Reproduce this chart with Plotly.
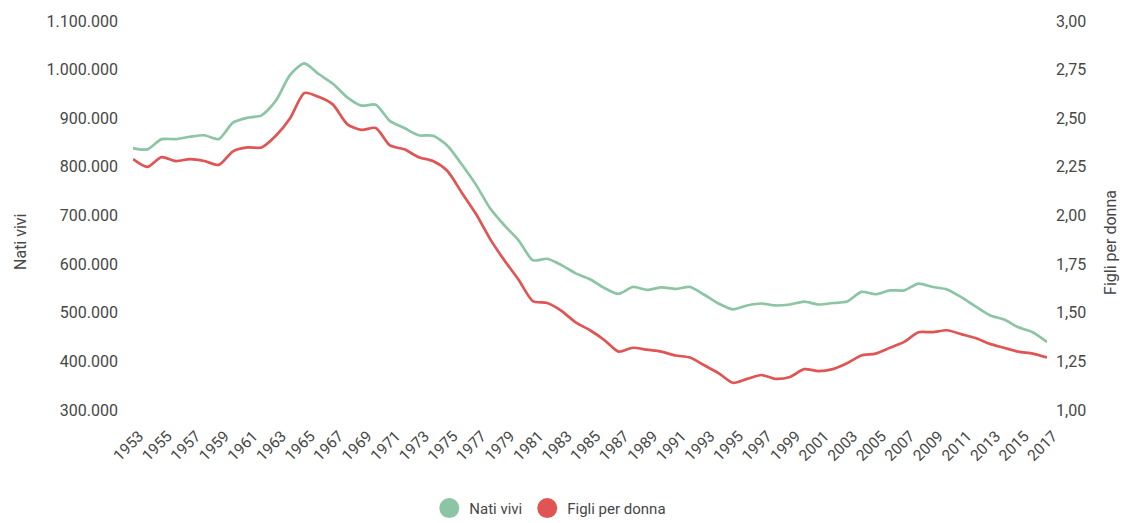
import plotly.graph_objects as go

# Anni 1953-2017
years = list(range(1953, 2018))

# Nati vivi per anno
nati_vivi = [
    838000, 836000, 857000, 857000, 862000, 865000, 857000, 891000, 901000, 906000,
    936000, 989000, 1013000, 991000, 971000, 943000, 926000, 928000, 894000, 880000,
    865000, 864000, 844000, 806000, 764000, 715000, 680000, 649000, 608000, 611000,
    598000, 581000, 569000, 551000, 539000, 553000, 547000, 552000, 549000, 553000,
    537000, 519000, 507000, 515000, 519000, 515000, 517000, 523000, 517000, 520000,
    523000, 543000, 538000, 546000, 546000, 560000, 553000, 548000, 532000, 513000,
    495000, 486000, 470000, 460000, 440000,
]

# Figli per donna (tasso di fecondità totale)
figli_per_donna = [
    2.29, 2.25, 2.30, 2.28, 2.29, 2.28, 2.26, 2.33, 2.35, 2.35,
    2.41, 2.50, 2.63, 2.61, 2.57, 2.47, 2.44, 2.45, 2.36, 2.34,
    2.30, 2.28, 2.23, 2.12, 2.01, 1.88, 1.77, 1.67, 1.56, 1.55,
    1.51, 1.45, 1.41, 1.36, 1.30, 1.32, 1.31, 1.30, 1.28, 1.27,
    1.23, 1.19, 1.14, 1.16, 1.18, 1.16, 1.17, 1.21, 1.20, 1.21,
    1.24, 1.28, 1.29, 1.32, 1.35, 1.40, 1.40, 1.41, 1.39, 1.37,
    1.34, 1.32, 1.30, 1.29, 1.27,
]

GREEN = "#8cc5a4"
RED = "#e05454"
TEXT = "#474747"
FONT = "Roboto"

fig = go.Figure()

fig.add_trace(go.Scatter(
    x=years, y=nati_vivi, name="Nati vivi", yaxis="y",
    mode="lines", line=dict(color=GREEN, width=2.7, shape="spline", smoothing=0.7),
    showlegend=False,
))
fig.add_trace(go.Scatter(
    x=years, y=figli_per_donna, name="Figli per donna", yaxis="y2",
    mode="lines", line=dict(color=RED, width=2.7, shape="spline", smoothing=0.7),
    showlegend=False,
))

# Voci di legenda con marcatori circolari
for name, color in [("Nati vivi", GREEN), ("Figli per donna", RED)]:
    fig.add_trace(go.Scatter(
        x=[None], y=[None], name=name, mode="markers",
        marker=dict(color=color, size=20, symbol="circle",
                    line=dict(color=color, width=4)),
        showlegend=True,
    ))

fig.update_layout(
    width=1123, height=523,
    margin=dict(l=133, r=76, t=19, b=113),
    paper_bgcolor="white", plot_bgcolor="white",
    separators=",.",
    font=dict(family=FONT, size=15, color=TEXT),
    xaxis=dict(
        range=[1953, 2017], tick0=1953, dtick=2, tickangle=-45,
        showgrid=False, zeroline=False, showline=False,
        tickfont=dict(size=15.5, color=TEXT),
        ticks="", ticklabelstandoff=13, ticklabelshift=6,
    ),
    yaxis=dict(
        range=[300000, 1100000], dtick=100000, tickformat=",d",
        showgrid=False, zeroline=False, showline=False,
        tickfont=dict(size=16, color=TEXT), ticklabelstandoff=14,
    ),
    yaxis2=dict(
        range=[1, 3], dtick=0.25, tickformat=".2f",
        overlaying="y", side="right",
        showgrid=False, zeroline=False, showline=False,
        tickfont=dict(size=16, color=TEXT), ticklabelstandoff=8,
    ),
    legend=dict(
        orientation="h", xref="container", yref="container",
        x=0.49, xanchor="center", y=0.028, yanchor="middle",
        font=dict(size=15, color=TEXT), itemsizing="trace",
    ),
    annotations=[
        dict(text="Nati vivi", xref="paper", yref="paper",
             x=-0.1225, y=0.432, xanchor="center", yanchor="middle",
             textangle=-90, showarrow=False, font=dict(size=16, color=TEXT)),
        dict(text="Figli per donna", xref="paper", yref="paper",
             x=1.07, y=0.432, xanchor="center", yanchor="middle",
             textangle=-90, showarrow=False, font=dict(size=16, color=TEXT)),
    ],
)

fig.write_html("out.html")
